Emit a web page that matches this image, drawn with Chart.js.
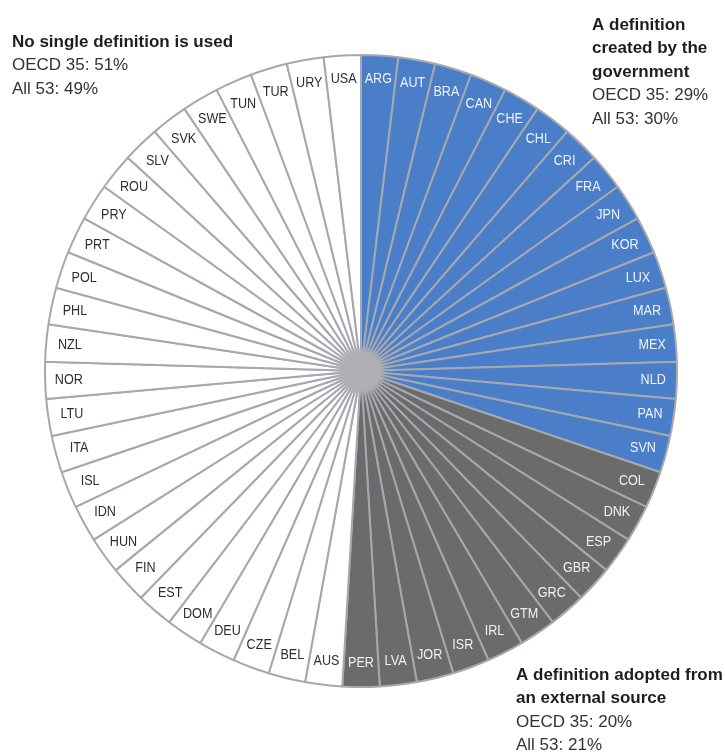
<!DOCTYPE html>
<html>
<head>
<meta charset="utf-8">
<script src="https://cdn.jsdelivr.net/npm/chart.js@4.4.1/dist/chart.umd.min.js"></script>
<style>
  html, body { margin: 0; padding: 0; background: #fff; }
  #wrap { width: 725px; height: 754px; }
</style>
</head>
<body>
<div id="wrap"><canvas id="grafico" width="725" height="754"></canvas></div>
<script>
  // countries, clockwise from 12 o'clock
  const paises = [
    "ARG", "AUT", "BRA", "CAN", "CHE", "CHL", "CRI", "FRA", "JPN", "KOR", "LUX", "MAR", "MEX", "NLD", "PAN", "SVN",
    "COL", "DNK", "ESP", "GBR", "GRC", "GTM", "IRL", "ISR", "JOR", "LVA", "PER",
    "AUS", "BEL", "CZE", "DEU", "DOM", "EST", "FIN", "HUN", "IDN", "ISL", "ITA", "LTU", "NOR", "NZL", "PHL",
    "POL", "PRT", "PRY", "ROU", "SLV", "SVK", "SWE", "TUN", "TUR", "URY", "USA"
  ];

  // which kind of definition each country uses
  const tipo = [
    "gov", "gov", "gov", "gov", "gov", "gov", "gov", "gov", "gov", "gov", "gov", "gov", "gov", "gov", "gov", "gov",
    "ext", "ext", "ext", "ext", "ext", "ext", "ext", "ext", "ext", "ext", "ext",
    "none", "none", "none", "none", "none", "none", "none", "none", "none", "none", "none", "none", "none", "none", "none",
    "none", "none", "none", "none", "none", "none", "none", "none", "none", "none", "none"
  ];

  // every country counts as one slice
  const peso = paises.map(() => 1);

  // summary per group: no single definition, government, external source
  const grupoTitulo = [
    ["No single definition is used"],
    ["A definition", "created by the", "government"],
    ["A definition adopted from", "an external source"]
  ];
  const pctOcde35 = ["51%", "29%", "20%"];
  const pctTodos53 = ["49%", "30%", "21%"];

  const corFatia = { gov: "#4a7ec8", ext: "#6b6b6b", none: "#ffffff" };
  const corTexto = { gov: "#eef2fa", ext: "#f0f0f0", none: "#2e2e2e" };

  const rotulosFatias = {
    id: "rotulosFatias",
    afterDatasetsDraw(chart) {
      const ctx = chart.ctx;
      const meta = chart.getDatasetMeta(0);
      ctx.save();
      ctx.font = "15px 'Liberation Sans', Arial, sans-serif";
      ctx.textAlign = "center";
      ctx.textBaseline = "middle";
      let cx = 0, cy = 0, raio = 0;
      meta.data.forEach((arc, i) => {
        const p = arc.getProps(["x", "y", "startAngle", "endAngle", "outerRadius"], true);
        cx = p.x; cy = p.y; raio = p.outerRadius;
        const meio = (p.startAngle + p.endAngle) / 2;
        const r = p.outerRadius * 0.925;
        ctx.fillStyle = corTexto[tipo[i]];
        ctx.save();
        ctx.translate(p.x + Math.cos(meio) * r, p.y + Math.sin(meio) * r);
        ctx.scale(0.84, 1); // narrow lettering
        ctx.fillText(paises[i], 0, 0);
        ctx.restore();
      });
      // grey hub where the borders meet
      ctx.beginPath();
      ctx.arc(cx, cy, raio * 0.07, 0, Math.PI * 2);
      ctx.fillStyle = "rgba(176,176,180,0.9)";
      ctx.filter = "blur(2px)";
      ctx.fill();
      ctx.restore();
    }
  };

  // text blocks in the corners
  const blocoPos = [{ x: 12, y: 42 }, { x: 592, y: 25 }, { x: 516, y: 675 }];
  const notas = {
    id: "notas",
    afterDraw(chart) {
      const ctx = chart.ctx;
      ctx.save();
      ctx.textAlign = "left";
      ctx.textBaseline = "middle";
      grupoTitulo.forEach((titulo, k) => {
        let y = blocoPos[k].y;
        const x = blocoPos[k].x;
        ctx.fillStyle = "#1e1e1e";
        ctx.font = "bold 17px 'Liberation Sans', Arial, sans-serif";
        titulo.forEach(linha => {
          ctx.fillText(linha, x, y);
          y += 23.5;
        });
        ctx.fillStyle = "#333";
        ctx.font = "17px 'Liberation Sans', Arial, sans-serif";
        ctx.fillText("OECD 35: " + pctOcde35[k], x, y);
        y += 23.5;
        ctx.fillText("All 53: " + pctTodos53[k], x, y);
      });
      ctx.restore();
    }
  };

  const grafico = document.getElementById("grafico").getContext("2d");

  new Chart(grafico, {
    type: "pie",
    data: {
      labels: paises,
      datasets: [{
        data: peso,
        backgroundColor: tipo.map(t => corFatia[t]),
        borderColor: "#a6a8b0",
        borderWidth: 2
      }]
    },
    options: {
      responsive: false,
      animation: false,
      layout: { padding: { left: 44, right: 47, top: 54, bottom: 66 } },
      plugins: {
        legend: { display: false },
        tooltip: { enabled: false }
      }
    },
    plugins: [rotulosFatias, notas]
  });
</script>
</body>
</html>
